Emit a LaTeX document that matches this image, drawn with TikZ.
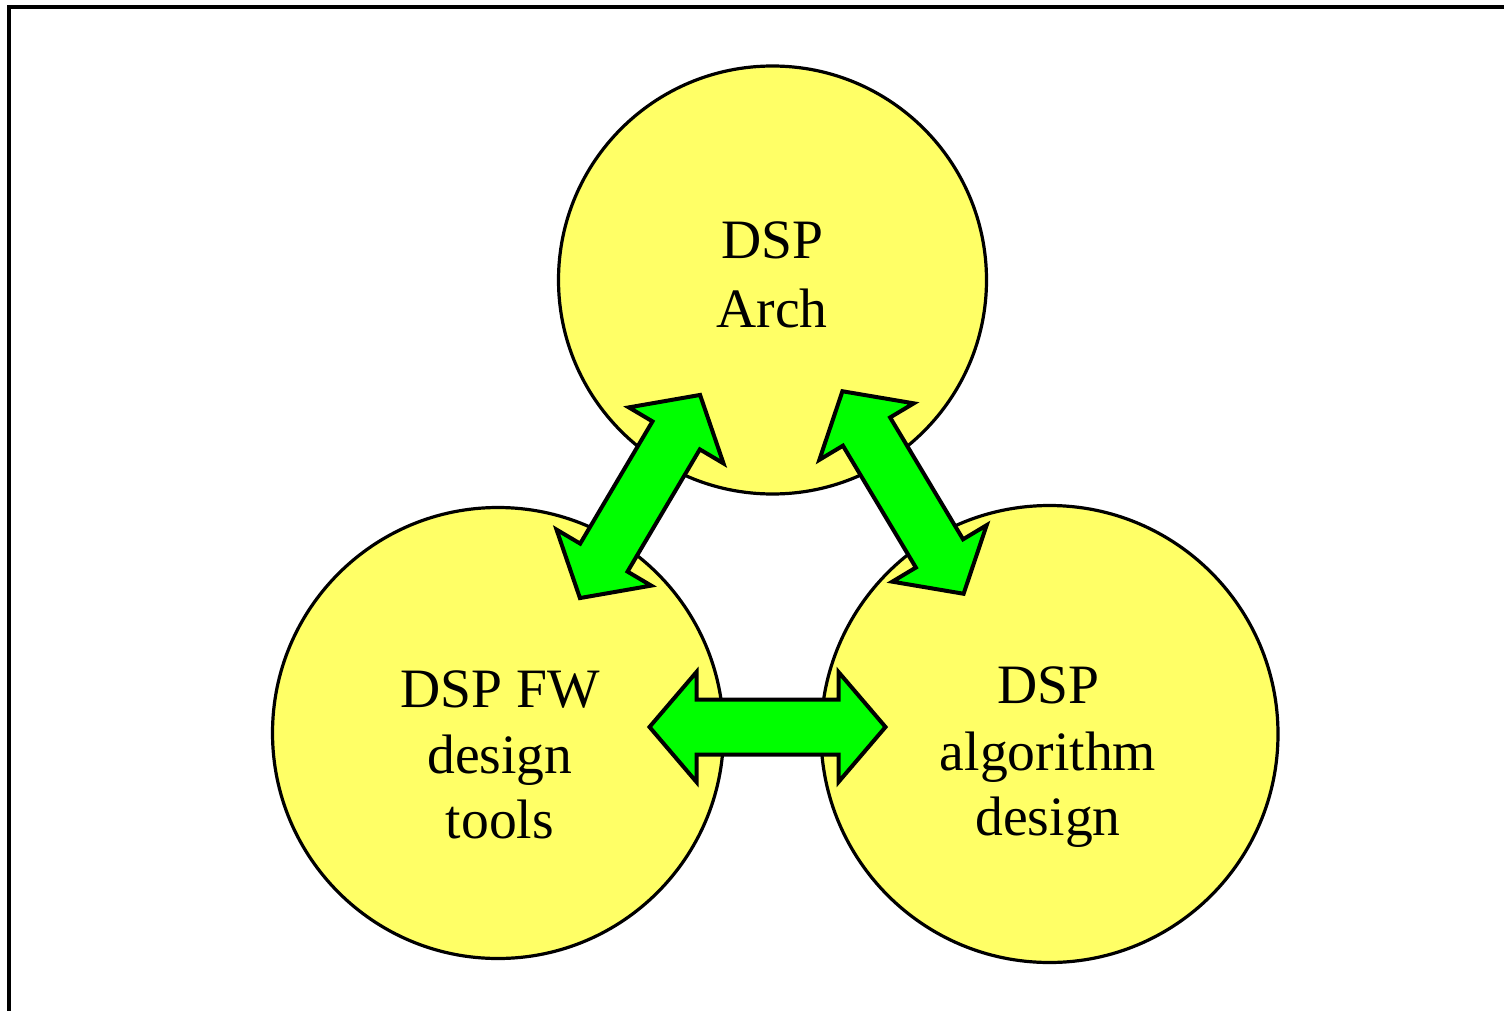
\documentclass[tikz,border=0pt]{standalone}
\usepackage{fontspec}
\setmainfont{Liberation Serif}
\definecolor{bubble}{HTML}{FFFF66}
\definecolor{linkgreen}{HTML}{00FF00}
\tikzset{
  bubble/.style={circle, draw=black, line width=1.6pt, fill=bubble, inner sep=0pt},
  label text/.style={anchor=base, inner sep=0pt, font=\fontsize{27.8pt}{33pt}\selectfont},
  link arrow/.style={draw=black, fill=linkgreen, line width=2pt, line join=miter},
  pics/dblarrow/.style={code={
    \path[link arrow] (-118,0) -- (-71,55) -- (-71,27.5) -- (71,27.5) -- (71,55)
      -- (118,0) -- (71,-55) -- (71,-27.5) -- (-71,-27.5) -- (-71,-55) -- cycle;
  }}
}
\begin{document}
\begin{tikzpicture}[x=0.5pt, y=-0.5pt]
  \useasboundingbox (0,0) rectangle (1504,1011);
  \fill[white] (0,0) rectangle (1504,1011);
  % outer frame, running off the right and bottom edges
  \begin{scope}
    \clip (0,0) rectangle (1504,1011);
    \draw[line width=2pt] (9,1040) -- (9,7) -- (1540,7);
  \end{scope}

  % the three areas
  \node[bubble, minimum size=214pt] (arch) at (772.5,280) {};
  \node[bubble, minimum size=225.5pt] (fw) at (498,733) {};
  \node[bubble, minimum size=228.5pt] (algo) at (1049.5,734) {};

  % labels
  \node[label text] (arch1) at (772,258) {DSP};
  \node[label text] (arch2) at (772,327) {Arch};
  \node[label text] (fw1) at (500,707) {DSP FW};
  \node[label text] (fw2) at (500,773) {design};
  \node[label text] (fw3) at (500,838) {tools};
  \node[label text] (algo1) at (1048,703) {DSP};
  \node[label text] (algo2) at (1048,770) {algorithm};
  \node[label text] (algo3) at (1048,835) {design};

  % two-way links between the areas
  \coordinate (fwarch) at (640,496.5);
  \coordinate (archalgo) at (903,492.5);
  \coordinate (fwalgo) at (767.5,727);
  \pic[rotate=59.4] at (fwarch) {dblarrow};
  \pic[rotate=-59.1] at (archalgo) {dblarrow};
  \pic at (fwalgo) {dblarrow};
\end{tikzpicture}
\end{document}
